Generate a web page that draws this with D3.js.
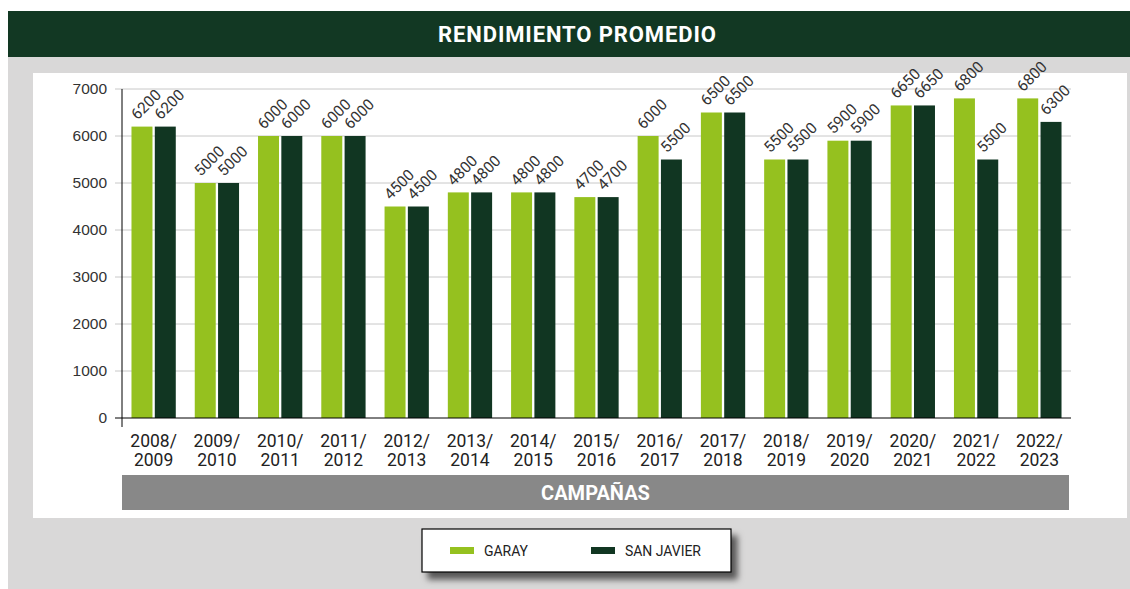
<!DOCTYPE html>
<html>
<head>
<meta charset="utf-8">
<script src="https://cdn.jsdelivr.net/npm/d3@7"></script>
<style>
  body { margin: 0; background: #fff; }
  svg { display: block; font-family: Roboto, "Liberation Sans", sans-serif; }
</style>
</head>
<body>
<svg id="chart" width="1130" height="589"></svg>
<script>
const campaigns = ["2008/2009","2009/2010","2010/2011","2011/2012","2012/2013","2013/2014","2014/2015",
  "2015/2016","2016/2017","2017/2018","2018/2019","2019/2020","2020/2021","2021/2022","2022/2023"];
const garay = [6200,5000,6000,6000,4500,4800,4800,4700,6000,6500,5500,5900,6650,6800,6800];
const sanJavier = [6200,5000,6000,6000,4500,4800,4800,4700,5500,6500,5500,5900,6650,5500,6300];
const seriesNames = ["GARAY", "SAN JAVIER"];
const seriesColors = ["#95c11f", "#113622"];
const yTicks = [0,1000,2000,3000,4000,5000,6000,7000];

const svg = d3.select("#chart");

// backgrounds
svg.append("rect").attr("x", 8).attr("y", 57).attr("width", 1122).attr("height", 532).attr("fill", "#d9d8d8");
svg.append("rect").attr("x", 8).attr("y", 11).attr("width", 1122).attr("height", 46).attr("fill", "#123823");
svg.append("text").attr("x", 577).attr("y", 42).attr("text-anchor", "middle")
  .attr("fill", "#fff").style("font-size", "22px").style("font-weight", "bold")
  .attr("textLength", 278)
  .text("RENDIMIENTO PROMEDIO");
svg.append("rect").attr("x", 33).attr("y", 73).attr("width", 1094).attr("height", 445).attr("fill", "#fff");

const pLeft = 122, pRight = 1071, pTop = 89, pBottom = 418;

const x = d3.scaleBand().domain(campaigns).range([pLeft, pRight]).paddingInner(0.3).paddingOuter(0.15);
const x1 = d3.scaleBand().domain(seriesNames).range([0, x.bandwidth()]).paddingInner(0.1);
const y = d3.scaleLinear().domain([0, 7000]).range([pBottom, pTop]);

// gridlines
svg.append("g").selectAll("line").data(yTicks.slice(1)).join("line")
  .attr("x1", 115).attr("x2", pRight)
  .attr("y1", d => y(d)).attr("y2", d => y(d))
  .attr("stroke", "#c8c8c8").attr("stroke-width", 1);

// y axis
const yAxis = svg.append("g").attr("transform", `translate(${pLeft},0)`)
  .call(d3.axisLeft(y).tickValues(yTicks).tickFormat(d3.format("d")).tickSize(0).tickPadding(15));
yAxis.select(".domain").attr("stroke", "#000").attr("d", `M0,${pTop}V${pBottom + 9}`);
yAxis.selectAll("text").style("font-size", "15.5px").attr("fill", "#333");
svg.append("line").attr("x1", 115).attr("x2", pLeft).attr("y1", pBottom).attr("y2", pBottom).attr("stroke", "#000");

// bars
const data = campaigns.map((c, i) => ({ c, vals: [garay[i], sanJavier[i]] }));
const groups = svg.append("g").selectAll("g").data(data).join("g")
  .attr("transform", d => `translate(${x(d.c)},0)`);
groups.selectAll("rect").data(d => d.vals.map((v, k) => ({ v, k }))).join("rect")
  .attr("x", d => x1(seriesNames[d.k]))
  .attr("width", x1.bandwidth())
  .attr("y", d => y(d.v))
  .attr("height", d => pBottom - y(d.v))
  .attr("fill", d => seriesColors[d.k]);
groups.selectAll("text").data(d => d.vals.map((v, k) => ({ v, k }))).join("text")
  .attr("transform", d => `translate(${x1(seriesNames[d.k]) + 6},${y(d.v) - 6}) rotate(-45)`)
  .style("font-size", "15.5px").attr("fill", "#333")
  .text(d => d.v);

// x axis
svg.append("line").attr("x1", pLeft).attr("x2", pRight).attr("y1", pBottom).attr("y2", pBottom).attr("stroke", "#000");
const xl = svg.append("g").selectAll("text").data(campaigns).join("text")
  .attr("x", d => x(d) + x.bandwidth() / 2).attr("y", 447)
  .attr("text-anchor", "middle").style("font-size", "17.5px").attr("fill", "#222");
xl.append("tspan").attr("x", d => x(d) + x.bandwidth() / 2).text(d => d.split("/")[0] + "/");
xl.append("tspan").attr("x", d => x(d) + x.bandwidth() / 2).attr("dy", 19).text(d => d.split("/")[1]);

// axis title bar
svg.append("rect").attr("x", pLeft).attr("y", 475).attr("width", 947).attr("height", 35).attr("fill", "#888");
svg.append("text").attr("x", pLeft + 947 / 2).attr("y", 500).attr("text-anchor", "middle")
  .attr("fill", "#fff").style("font-size", "20px").style("font-weight", "bold").text("CAMPAÑAS");

// legend
const defs = svg.append("defs");
const f = defs.append("filter").attr("id", "shadow").attr("x", "-10%").attr("y", "-30%").attr("width", "130%").attr("height", "170%");
f.append("feDropShadow").attr("dx", 6).attr("dy", 7).attr("stdDeviation", 3).attr("flood-color", "#000").attr("flood-opacity", 0.6);
svg.append("rect").attr("x", 422).attr("y", 529).attr("width", 309).attr("height", 43)
  .attr("fill", "#fff").attr("stroke", "#000").attr("stroke-width", 1.2).attr("filter", "url(#shadow)");
const lg = svg.append("g").selectAll("g").data(seriesNames).join("g")
  .attr("transform", (d, i) => `translate(${450 + i * 141},0)`);
lg.append("rect").attr("y", 547).attr("width", 24).attr("height", 7).attr("fill", (d, i) => seriesColors[i]);
lg.append("text").attr("x", 34).attr("y", 556).style("font-size", "14px").attr("fill", "#222")
  .attr("textLength", (d, i) => i ? 76 : 44).text(d => d);
</script>
</body>
</html>
